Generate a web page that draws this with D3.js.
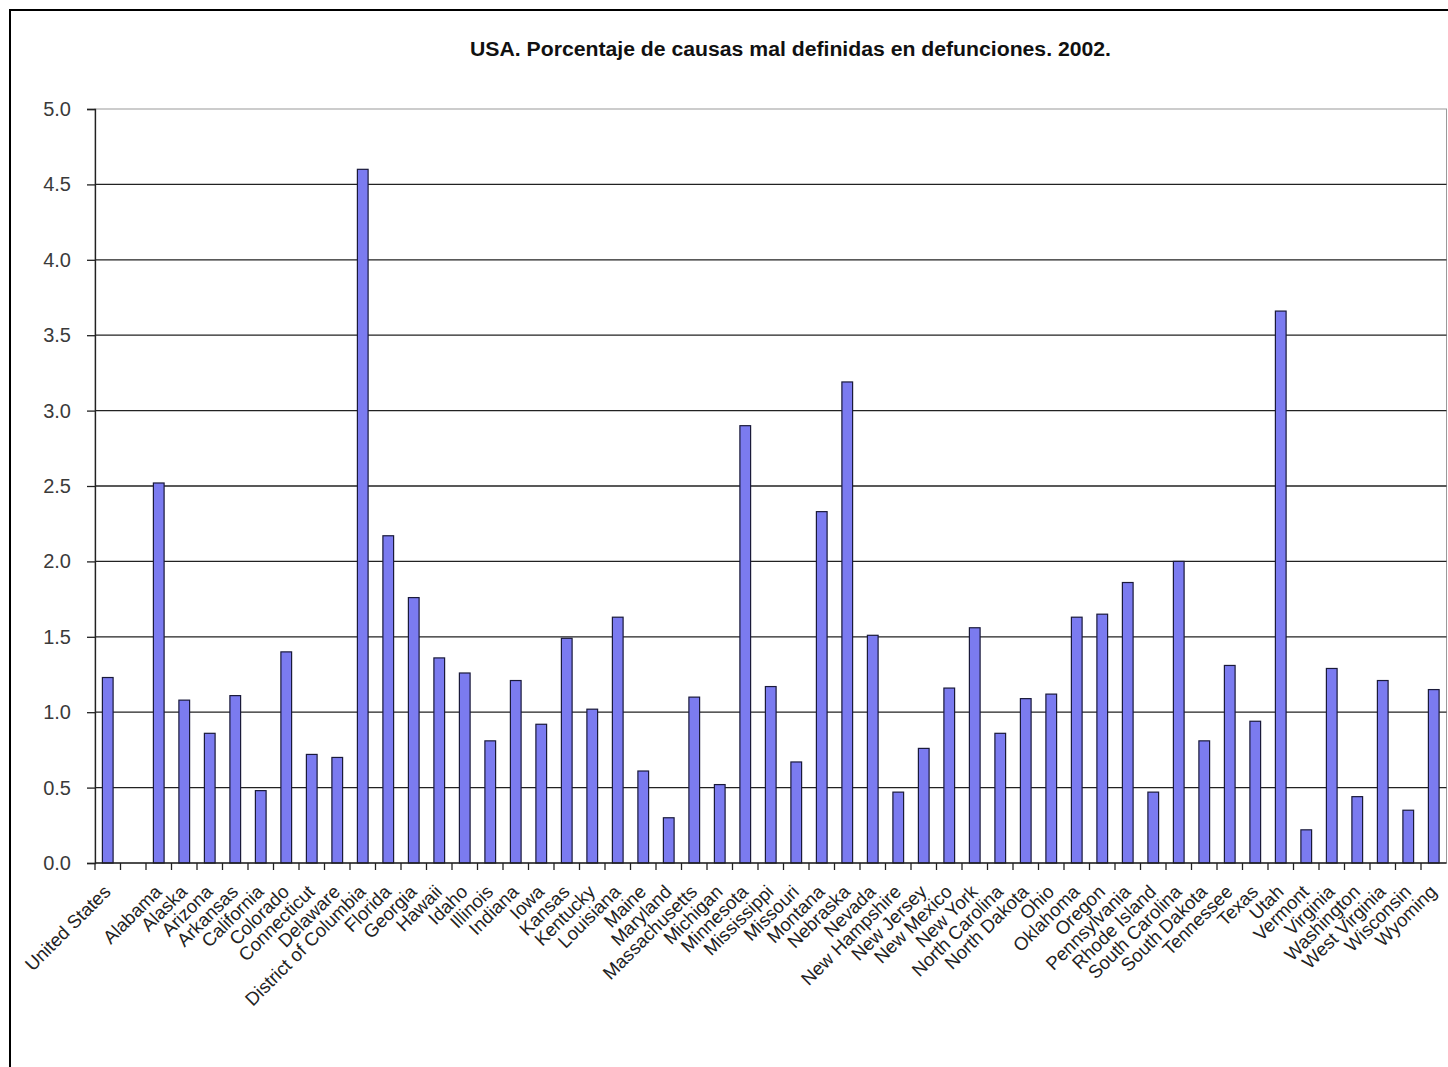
<!DOCTYPE html>
<html>
<head>
<meta charset="utf-8">
<script src="https://cdn.jsdelivr.net/npm/d3@7"></script>
<style>
  html, body { margin: 0; padding: 0; background: #fff; }
  svg { display: block; }
</style>
</head>
<body>
<svg id="chart" width="1448" height="1067"></svg>
<script>
// Percentage of ill-defined causes of death, by state, 2002
const categories = [
  "United States", "", "Alabama", "Alaska", "Arizona", "Arkansas", "California",
  "Colorado", "Connecticut", "Delaware", "District of Columbia", "Florida",
  "Georgia", "Hawaii", "Idaho", "Illinois", "Indiana", "Iowa", "Kansas",
  "Kentucky", "Louisiana", "Maine", "Maryland", "Massachusetts", "Michigan",
  "Minnesota", "Mississippi", "Missouri", "Montana", "Nebraska", "Nevada",
  "New Hampshire", "New Jersey", "New Mexico", "New York", "North Carolina",
  "North Dakota", "Ohio", "Oklahoma", "Oregon", "Pennsylvania", "Rhode Island",
  "South Carolina", "South Dakota", "Tennessee", "Texas", "Utah", "Vermont",
  "Virginia", "Washington", "West Virginia", "Wisconsin", "Wyoming"
];
const values = [
  1.23, null, 2.52, 1.08, 0.86, 1.11, 0.48,
  1.40, 0.72, 0.70, 4.60, 2.17,
  1.76, 1.36, 1.26, 0.81, 1.21, 0.92, 1.49,
  1.02, 1.63, 0.61, 0.30, 1.10, 0.52,
  2.90, 1.17, 0.67, 2.33, 3.19, 1.51,
  0.47, 0.76, 1.16, 1.56, 0.86,
  1.09, 1.12, 1.63, 1.65, 1.86, 0.47,
  2.00, 0.81, 1.31, 0.94, 3.66, 0.22,
  1.29, 0.44, 1.21, 0.35, 1.15
];
const yTicks = [0, 0.5, 1.0, 1.5, 2.0, 2.5, 3.0, 3.5, 4.0, 4.5, 5.0];
const title = "USA. Porcentaje de causas mal definidas en defunciones. 2002.";

const data = categories.map((c, i) => ({ name: c, value: values[i] }));

const svg = d3.select("#chart");
const plotLeft = 95, plotRight = 1446.5, plotTop = 109, plotBottom = 863;

// outer chart frame
svg.append("rect")
  .attr("x", 10).attr("y", 10)
  .attr("width", 1500).attr("height", 1100)
  .attr("fill", "#fff").attr("stroke", "#000").attr("stroke-width", 2);

const x = d3.scaleBand().domain(categories).range([plotLeft, plotRight]).padding(0);
const y = d3.scaleLinear().domain([0, 5]).range([plotBottom, plotTop]);

// plot area border
svg.append("rect")
  .attr("x", plotLeft).attr("y", plotTop)
  .attr("width", plotRight - plotLeft).attr("height", plotBottom - plotTop)
  .attr("fill", "none").attr("stroke", "#9a9a9a").attr("stroke-width", 1);

// horizontal gridlines
svg.append("g")
  .selectAll("line")
  .data(yTicks.filter(t => t > 0 && t < 5))
  .join("line")
  .attr("x1", plotLeft).attr("x2", plotRight)
  .attr("y1", d => y(d)).attr("y2", d => y(d))
  .attr("stroke", "#222").attr("stroke-width", 1.3);

// bars
const barW = x.bandwidth() * 0.42;
svg.append("g")
  .selectAll("rect")
  .data(data.filter(d => d.value != null))
  .join("rect")
  .attr("x", d => x(d.name) + (x.bandwidth() - barW) / 2)
  .attr("y", d => y(d.value))
  .attr("width", barW)
  .attr("height", d => y(0) - y(d.value))
  .attr("fill", "#7b7bf0")
  .attr("stroke", "#1a1a3a")
  .attr("stroke-width", 1.2);

// y axis
const yAxis = svg.append("g")
  .attr("transform", `translate(${plotLeft},0)`)
  .call(d3.axisLeft(y).tickValues(yTicks).tickFormat(d3.format(".1f")).tickSize(8).tickPadding(16));
yAxis.select(".domain").attr("stroke", "#222").attr("stroke-width", 1.3);
yAxis.selectAll(".tick line").attr("stroke", "#222").attr("stroke-width", 1.3);
yAxis.selectAll(".tick text")
  .attr("font-family", "Liberation Sans, Arial, sans-serif")
  .attr("font-size", 20)
  .attr("fill", "#3a3a3a");

// x axis: ticks on category boundaries
const xg = svg.append("g");
xg.append("line")
  .attr("x1", plotLeft).attr("x2", plotRight)
  .attr("y1", plotBottom).attr("y2", plotBottom)
  .attr("stroke", "#222").attr("stroke-width", 1.3);
xg.selectAll("line.tk")
  .data(categories)
  .join("line")
  .attr("class", "tk")
  .attr("x1", d => x(d)).attr("x2", d => x(d))
  .attr("y1", plotBottom).attr("y2", plotBottom + 7)
  .attr("stroke", "#222").attr("stroke-width", 1.3);

// rotated category labels
xg.selectAll("text")
  .data(categories.filter(c => c !== ""))
  .join("text")
  .attr("transform", d => `translate(${x(d) + x.bandwidth() / 2 + 4},${plotBottom + 30}) rotate(-45)`)
  .attr("text-anchor", "end")
  .attr("font-family", "Liberation Sans, Arial, sans-serif")
  .attr("font-size", 18.6)
  .attr("fill", "#222")
  .text(d => d);

// title
svg.append("text")
  .attr("x", 790.5).attr("y", 56)
  .attr("text-anchor", "middle")
  .attr("font-family", "Liberation Sans, Arial, sans-serif")
  .attr("font-size", 20)
  .attr("font-weight", "bold")
  .attr("textLength", 641)
  .attr("lengthAdjust", "spacingAndGlyphs")
  .attr("fill", "#111")
  .text(title);
</script>
</body>
</html>
